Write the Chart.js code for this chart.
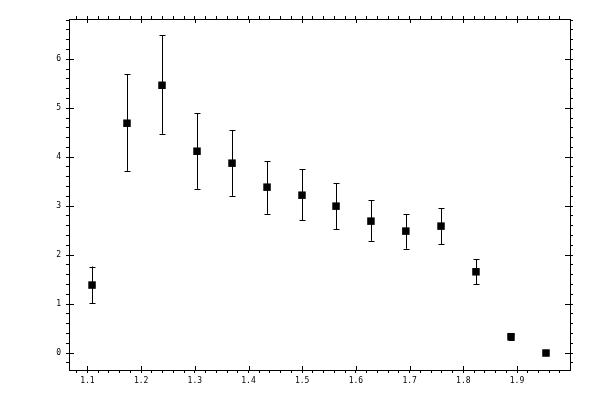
<!doctype html>
<html>
    <head>
        <meta charset="utf-8">
        <script src="https://cdn.jsdelivr.net/npm/chart.js"></script>
        <style>
            body {
                margin: 0px;
                background-color: white;
            }
        </style>
    </head>
    <body>
        <canvas id="myChart" width="600" height="400"></canvas>

        <script>
        // measured values
        const xValues = [1.1086, 1.1737, 1.2389, 1.3041, 1.3693, 1.4345, 1.4996, 1.5630, 1.6280, 1.6930, 1.7585, 1.8236, 1.8888, 1.9540];
        const yValues = [1.388, 4.694, 5.469, 4.122, 3.878, 3.388, 3.224, 3.000, 2.694, 2.490, 2.592, 1.659, 0.333, 0.000];
        const yLow    = [1.020, 3.720, 4.476, 3.353, 3.210, 2.843, 2.714, 2.531, 2.292, 2.129, 2.224, 1.408, 0.262, 0.000];
        const yHigh   = [1.767, 5.694, 6.496, 4.898, 4.551, 3.918, 3.755, 3.469, 3.122, 2.837, 2.959, 1.918, 0.398, 0.000];

        const xTicks = [1.1, 1.2, 1.3, 1.4, 1.5, 1.6, 1.7, 1.8, 1.9];
        const yTicks = [0, 1, 2, 3, 4, 5, 6];
        const minorSplits = 5;

        const fontSpec = { family: 'DejaVu Sans Mono', size: 8 };

        function buildTicks(majors, min, max) {
            let step = (majors[1] - majors[0]) / minorSplits;
            let list = [];
            let v = majors[0];
            while (v - step >= min - 1e-9) v -= step;
            for (; v <= max + 1e-9; v += step) {
                let r = Math.round(v * 1e6) / 1e6;
                let isMajor = majors.some(m => Math.abs(m - r) < 1e-6);
                list.push({ value: r, major: isMajor });
            }
            return list;
        }

        // error bars, drawn through the scales
        const errorBars = {
            id: 'errorBars',
            beforeDatasetsDraw(chart) {
                const ctx = chart.ctx;
                const xs = chart.scales.x, ys = chart.scales.y;
                ctx.save();
                ctx.strokeStyle = '#000';
                ctx.lineWidth = 1;
                for (let i = 0; i < xValues.length; i++) {
                    if (yHigh[i] - yLow[i] <= 0) continue;
                    let px = Math.round(xs.getPixelForValue(xValues[i])) + 0.5;
                    let top = ys.getPixelForValue(yHigh[i]);
                    let bot = ys.getPixelForValue(yLow[i]);
                    ctx.beginPath();
                    ctx.moveTo(px, top);
                    ctx.lineTo(px, bot);
                    ctx.moveTo(px - 3, Math.round(top) + 0.5);
                    ctx.lineTo(px + 3, Math.round(top) + 0.5);
                    ctx.moveTo(px - 3, Math.round(bot) + 0.5);
                    ctx.lineTo(px + 3, Math.round(bot) + 0.5);
                    ctx.stroke();
                }
                ctx.restore();
            }
        };

        // inward half of the major ticks
        const innerTicks = {
            id: 'innerTicks',
            afterDraw(chart) {
                const ctx = chart.ctx;
                const a = chart.chartArea;
                ctx.save();
                ctx.strokeStyle = '#000';
                ctx.lineWidth = 1;
                ctx.beginPath();
                xTicks.forEach(v => {
                    let px = Math.round(chart.scales.x.getPixelForValue(v)) + 0.5;
                    ctx.moveTo(px, a.bottom);
                    ctx.lineTo(px, a.bottom - 4);
                    ctx.moveTo(px, a.top);
                    ctx.lineTo(px, a.top + 4);
                });
                yTicks.forEach(v => {
                    let py = Math.round(chart.scales.y.getPixelForValue(v)) + 0.5;
                    ctx.moveTo(a.left, py);
                    ctx.lineTo(a.left + 5, py);
                    ctx.moveTo(a.right, py);
                    ctx.lineTo(a.right - 5, py);
                });
                ctx.stroke();
                ctx.restore();
            }
        };

        function axis(position, min, max, majors, size, labels) {
            let horizontal = position === 'top' || position === 'bottom';
            return {
                type: 'linear',
                position: position,
                min: min,
                max: max,
                afterBuildTicks: (scale) => { scale.ticks = buildTicks(majors, min, max); },
                afterFit: (scale) => {
                    if (horizontal) scale.height = size; else scale.width = size;
                },
                grid: {
                    drawOnChartArea: false,
                    drawTicks: true,
                    tickLength: 3,
                    color: '#000',
                    lineWidth: 1
                },
                border: { display: true, color: '#000', width: 1 },
                ticks: {
                    display: labels,
                    autoSkip: false,
                    maxRotation: 0,
                    color: '#000',
                    font: fontSpec,
                    padding: horizontal ? 3 : 5,
                    callback: (value, index, ticks) => {
                        if (!ticks[index].major) return '';
                        return horizontal ? value.toFixed(1) : String(value);
                    }
                }
            };
        }

        const points = xValues.map((x, i) => ({ x: x, y: yValues[i] }));

        const myChart = new Chart(document.getElementById('myChart'), {
            type: 'scatter',
            data: {
                datasets: [{
                    data: points,
                    pointStyle: 'rect',
                    pointRadius: 5.3,
                    backgroundColor: '#000',
                    borderWidth: 0
                }]
            },
            options: {
                responsive: false,
                devicePixelRatio: 1,
                animation: false,
                layout: { padding: 0 },
                plugins: {
                    legend: { display: false },
                    tooltip: { enabled: false }
                },
                scales: {
                    x: axis('bottom', 1.0657, 1.9987, xTicks, 30, true),
                    x2: axis('top', 1.0657, 1.9987, xTicks, 19, false),
                    y: axis('left', -0.347, 6.823, yTicks, 69, true),
                    y2: axis('right', -0.347, 6.823, yTicks, 30, false)
                }
            },
            plugins: [errorBars, innerTicks]
        });
        </script>
    </body>
</html>
